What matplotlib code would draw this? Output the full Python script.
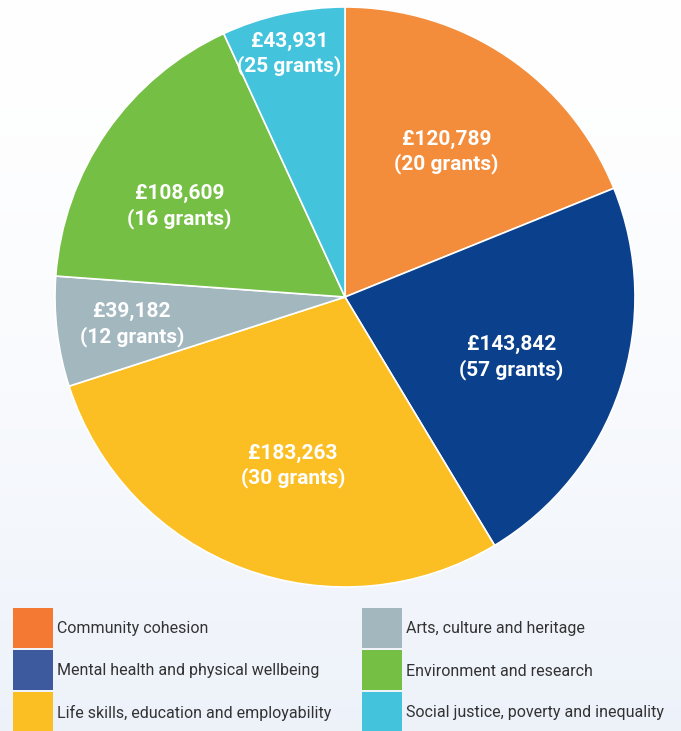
import numpy as np
import matplotlib
matplotlib.use("Agg")
import matplotlib.pyplot as plt
from matplotlib.patches import Rectangle

categories = ["Community cohesion", "Mental health and physical wellbeing",
              "Life skills, education and employability", "Arts, culture and heritage",
              "Environment and research", "Social justice, poverty and inequality"]
amounts = [120789, 143842, 183263, 39182, 108609, 43931]
grants = [20, 57, 30, 12, 16, 25]

pie_colors = ["#F38D3B", "#0B418C", "#FBBF24", "#A3B7BF", "#75BF44", "#43C3DC"]
legend_colors = ["#F47A33", "#3D5A9E", "#FBBF24", "#A3B7BF", "#75BF44", "#43C3DC"]
# label placement: fraction of radius and angle nudge (deg)
label_r = [0.61, 0.61, 0.61, 0.74, 0.65, 0.86]
label_dang = [-1, -1.5, 3.5, 0.5, 6, 0.5]

font = ["Roboto", "DejaVu Sans"]

W, H = 681, 731
fig = plt.figure(figsize=(W / 100, H / 100), dpi=100)

# soft background gradient, white at top to pale blue at the bottom
bg = fig.add_axes([0, 0, 1, 1])
grad = np.linspace(0, 1, 256).reshape(-1, 1)
top = np.array([1.0, 1.0, 1.0])
bot = np.array([0.93, 0.95, 0.98])
img = top + (bot - top) * grad[..., None] ** 1.5
bg.imshow(img, aspect="auto", extent=[0, W, 0, H], origin="lower")
bg.set_xlim(0, W)
bg.set_ylim(H, 0)
bg.axis("off")

cx, cy, r = 345, H - 297, 290
ax = fig.add_axes([(cx - r) / W, (cy - r) / H, 2 * r / W, 2 * r / H])
wedges, _ = ax.pie(amounts, colors=pie_colors, startangle=90, counterclock=False,
                   radius=1, wedgeprops=dict(edgecolor="white", linewidth=1.2))
ax.set_xlim(-1, 1)
ax.set_ylim(-1, 1)
ax.set_aspect("equal")
ax.axis("off")

for w, amt, g, lr, da in zip(wedges, amounts, grants, label_r, label_dang):
    ang = np.deg2rad((w.theta1 + w.theta2) / 2 + da)
    ax.text(lr * np.cos(ang), lr * np.sin(ang), f"£{amt:,}\n({g} grants)",
            ha="center", va="center", color="white", fontsize=15,
            fontweight="bold", family=font, linespacing=1.3)

# legend, two columns of three, drawn in pixel coordinates
for i, (lab, col) in enumerate(zip(categories, legend_colors)):
    x0 = 13 if i < 3 else 362
    y0 = 608 + (i % 3) * 42
    bg.add_patch(Rectangle((x0, y0), 40, 40, facecolor=col, edgecolor="none"))
    bg.text(x0 + 44, y0 + 21, lab, ha="left", va="center", fontsize=11.5,
            color="#333333", family=font)

fig.savefig("out.png", dpi=100)
